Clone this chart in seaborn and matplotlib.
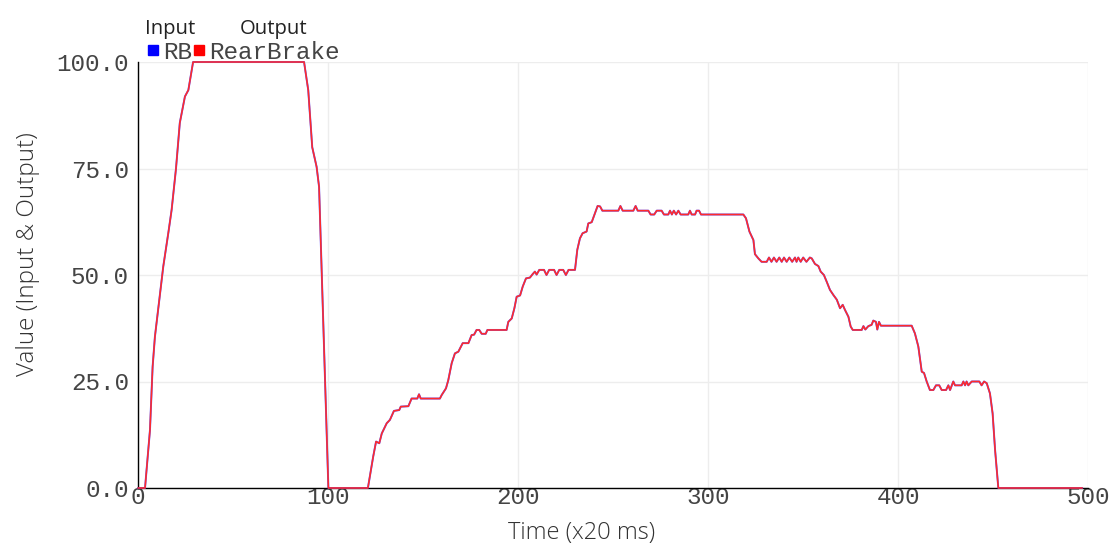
import matplotlib
matplotlib.use("Agg")
import matplotlib.pyplot as plt
from matplotlib.lines import Line2D
import seaborn as sns
import pandas as pd

# ---- data (time in x20 ms, values in %) ----
time_x20ms = [0, 3.7, 6.3, 7.7, 8.9, 11.6, 13.3, 16, 17.7, 20, 22, 24.7, 26.5, 29,
              87.4, 89.6, 91.7, 94, 95.3, 100.2, 121, 123.8, 125.3, 127, 128.3,
              130.9, 132.6, 134.7, 137.5, 138.3, 142.3, 144, 147, 147.9, 148.8,
              158.9, 159.8, 162.1, 163.3, 165.1, 166.8, 168.6, 170.9, 173.9, 175.6,
              176.9, 178.2, 179.6, 180.9, 183, 183.9, 194, 194.9, 196.7, 198.1,
              199.3, 201.1, 202.5, 204.2, 206.3, 207.7, 208.9, 209.8, 211.2, 213.7,
              215, 216.4, 219, 220.3, 221.7, 223.8, 225.2, 226.6, 230, 231.2, 232.6,
              234, 236.1, 237, 238.8, 240.5, 241.9, 243.2, 244.4, 252.8, 253.9,
              255.1, 260.7, 261.9, 263, 268.6, 269.8, 271.7, 273, 275.6, 276.8,
              279.1, 280, 281, 282, 283.2, 284.4, 285.6, 289.6, 290.5, 291.4, 293.2,
              294, 295.3, 296.3, 318.6, 320, 321.8, 323.9, 324.7, 326.5, 328.2,
              330.9, 332.1, 333.4, 334.7, 336.1, 337.5, 338.8, 340, 341.4, 342.8,
              344.3, 345.8, 346.6, 347.5, 348.8, 350.1, 351.8, 353.6, 354.6, 356.3,
              358.1, 359.3, 361, 362.5, 364.2, 366, 367.8, 369.5, 370.9, 372.1,
              373.9, 375.1, 376.2, 380.9, 381.8, 382.8, 384.4, 386.1, 387, 388.4,
              389.1, 390, 391, 407.2, 408.9, 410.7, 412.5, 413.7, 415.1, 416.8,
              418.6, 420, 421.7, 423, 425.3, 426.5, 427.4, 429.1, 430, 433.5, 434.4,
              435.3, 436.1, 437, 438.8, 442.8, 444, 445.3, 446.7, 448.4, 449.8,
              451.1, 452.8, 497]

rb_input = [0, 0, 13.6, 28.5, 35.5, 45.7, 52, 60, 65.3, 75, 85.7, 91.9, 93.4, 100,
            100, 93.4, 80, 75.4, 70.7, 0, 0, 7.4, 10.9, 10.5, 12.8,
            15.2, 16, 18.1, 18.3, 19.1, 19.2, 21, 21, 22, 21,
            21, 21.8, 23.4, 25.3, 29.3, 31.6, 32, 34, 34, 35.9,
            36, 37.1, 37.1, 36.2, 36.2, 37.1, 37.1, 39, 39.8, 42.2,
            44.9, 45.2, 47.3, 49.2, 49.4, 50.2, 50.8, 50.1, 51.2, 51.2,
            50, 51.2, 51.2, 50, 51.2, 51.2, 50, 51.2, 51.2, 55.9, 58.6,
            59.8, 60.2, 62.1, 62.4, 64.5, 66.2, 66.1, 65.1, 65.1, 66.2,
            65.1, 65.1, 66.2, 65.1, 65.1, 64.2, 64.2, 65.1, 65.1, 64.2,
            64.2, 65.1, 64.2, 65.1, 64.2, 65.1, 64.2, 64.2, 65.1, 64.2, 64.2,
            65.1, 65.1, 64.2, 64.2, 63.3, 60.2, 58.2, 54.9, 53.9, 53.1,
            53.1, 54.1, 53.1, 54.1, 53.1, 54.1, 53.1, 54.1, 53.1, 54.1,
            53.1, 54.1, 53.1, 54.1, 53.1, 54.1, 53.1, 54.1, 53.9, 52.6,
            52.1, 50.8, 50, 48.4, 46.5, 45.3, 44.2, 42.2, 43, 41.8,
            40.2, 37.9, 37.1, 37.1, 38, 37.2, 38, 38.3, 39.3, 39,
            37.2, 39, 38.1, 38.1, 36.3, 33.2, 27.3, 27, 25, 23,
            23, 24.1, 24.1, 23, 23, 24.1, 23, 25, 24.1, 24.1, 25,
            24.1, 25, 24.1, 25, 25, 24.1, 25, 24.6, 22.2, 17.5,
            8.9, 0, 0]

rear_brake_output = list(rb_input)

x_ticks = [0, 100, 200, 300, 400, 500]
y_ticks = [0, 25, 50, 75, 100]
y_tick_labels = ["0.0", "25.0", "50.0", "75.0", "100.0"]

df = pd.DataFrame({"t": time_x20ms, "RB": rb_input, "RearBrake": rear_brake_output})

sns.set_style("white")
mono = ["Liberation Mono", "DejaVu Sans Mono"]
sans = ["Open Sans", "DejaVu Sans"]

fig = plt.figure(figsize=(11.1, 5.49), dpi=100)
ax = fig.add_axes([138 / 1110, 1 - 488 / 549, 950 / 1110, 426 / 549])

sns.lineplot(data=df, x="t", y="RB", ax=ax, color="#3030ff", lw=1.4,
             alpha=0.8, sort=False, estimator=None, zorder=3, clip_on=False)
sns.lineplot(data=df, x="t", y="RearBrake", ax=ax, color="#ff2b2b", lw=1.15,
             sort=False, estimator=None, zorder=3.1, clip_on=False)

ax.set_xlim(0, 500)
ax.set_ylim(0, 100)
ax.set_xticks(x_ticks)
ax.set_yticks(y_ticks)
ax.set_yticklabels(y_tick_labels)
ax.grid(True, color="#ededed", lw=1)
ax.set_axisbelow(True)
for s in ["top", "right"]:
    ax.spines[s].set_visible(False)
for s in ["left", "bottom"]:
    ax.spines[s].set_color("black")
    ax.spines[s].set_linewidth(1)

ax.tick_params(axis="both", direction="inout", length=7, width=1, color="black",
               labelcolor="#444444", labelsize=17.5)
ax.tick_params(axis="x", pad=-5)
ax.tick_params(axis="y", pad=3)
for lab in ax.get_xticklabels() + ax.get_yticklabels():
    lab.set_family(mono)

ax.set_xlabel("Time (x20 ms)", family=sans, fontsize=17, color="#333333",
              fontweight="light")
ax.set_ylabel("Value (Input & Output)", family=sans, fontsize=17.5, color="#333333",
              fontweight="light")
ax.xaxis.set_label_coords(0.467, -0.078)
ax.yaxis.set_label_coords(-0.103, 0.549)

# legends
h_in = [Line2D([], [], marker="s", ls="none", color="#0000ff", markersize=7)]
h_out = [Line2D([], [], marker="s", ls="none", color="#ff0000", markersize=7)]
common = dict(frameon=False, handlelength=0.6, handletextpad=0.1, borderpad=0,
              borderaxespad=0, prop={"family": mono, "size": 17.5},
              loc="lower left", bbox_transform=fig.transFigure)
leg1 = ax.legend(h_in, ["RB"], bbox_to_anchor=(146 / 1110, 1 - 64 / 549), **common)
ax.add_artist(leg1)
leg2 = ax.legend(h_out, ["RearBrake"], bbox_to_anchor=(192 / 1110, 1 - 64 / 549),
                 **common)
for lg in (leg1, leg2):
    for t in lg.get_texts():
        t.set_color("#444444")

fig.text(170 / 1110, 1 - 34 / 549, "Input", family=sans, fontsize=14.6,
         color="#222222", ha="center", va="baseline")
fig.text(274 / 1110, 1 - 34 / 549, "Output", family=sans, fontsize=14.6,
         color="#222222", ha="center", va="baseline")

fig.savefig("out.png", dpi=100)
